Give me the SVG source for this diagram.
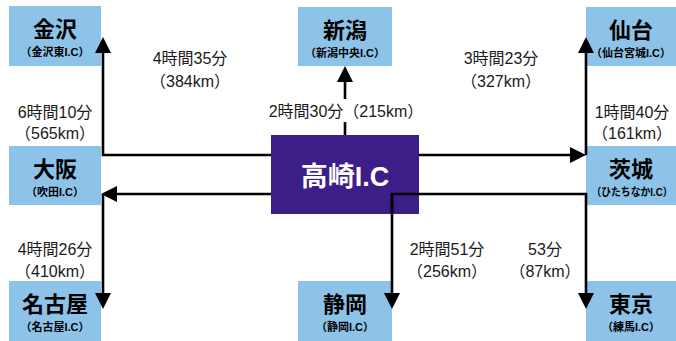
<svg xmlns="http://www.w3.org/2000/svg" width="676" height="341" viewBox="0 0 676 341">
<style>
  .box { fill: #8DC3E8; }
  .hub { fill: #3B1E87; }
  .t { font-family: "Liberation Sans", "Noto Sans CJK JP", sans-serif; text-anchor: middle; }
  .title { font-size: 22px; font-weight: bold; fill: #000; }
  .sub { font-size: 11px; font-weight: bold; fill: #000; }
  .hubt { font-size: 27px; font-weight: bold; fill: #fff; }
  .lbl { font-size: 16px; fill: #1a1a1a; }
  .ln { fill: none; stroke: #000; stroke-width: 2.6; }
</style>
<defs>
  <marker id="ah" markerUnits="userSpaceOnUse" markerWidth="16" markerHeight="16" refX="10" refY="8" orient="auto" viewBox="0 0 16 16">
    <path d="M0,0 L16,8 L0,16 Z" fill="#000"/>
  </marker>
</defs>
<rect width="676" height="341" fill="#fff"/>

<g id="kanazawa">
  <rect class="box" x="9" y="6" width="92" height="60"/>
  <text class="t title" x="55" y="37">金沢</text>
  <text class="t sub" x="55" y="56">（金沢東I.C）</text>
</g>
<g id="niigata">
  <rect class="box" x="298" y="7" width="94" height="59"/>
  <text class="t title" x="345" y="38">新潟</text>
  <text class="t sub" x="345" y="57">（新潟中央I.C）</text>
</g>
<g id="sendai">
  <rect class="box" x="586" y="7" width="90" height="59"/>
  <text class="t title" x="631" y="38">仙台</text>
  <text class="t sub" x="631" y="57" textLength="80" lengthAdjust="spacingAndGlyphs">（仙台宮城I.C）</text>
</g>
<g id="osaka">
  <rect class="box" x="9" y="146" width="92" height="59"/>
  <text class="t title" x="55" y="177">大阪</text>
  <text class="t sub" x="55" y="196">（吹田I.C）</text>
</g>
<g id="ibaraki">
  <rect class="box" x="586" y="146" width="90" height="59"/>
  <text class="t title" x="631" y="177">茨城</text>
  <text class="t sub" x="632" y="196" font-size="10.5" textLength="81" lengthAdjust="spacingAndGlyphs">（ひたちなかI.C）</text>
</g>
<g id="nagoya">
  <rect class="box" x="9" y="281" width="92" height="60"/>
  <text class="t title" x="55" y="312">名古屋</text>
  <text class="t sub" x="55" y="331">（名古屋I.C）</text>
</g>
<g id="shizuoka">
  <rect class="box" x="298" y="281" width="94" height="60"/>
  <text class="t title" x="345" y="312">静岡</text>
  <text class="t sub" x="345" y="331">（静岡I.C）</text>
</g>
<g id="tokyo">
  <rect class="box" x="586" y="281" width="90" height="60"/>
  <text class="t title" x="631" y="312">東京</text>
  <text class="t sub" x="631" y="331">（練馬I.C）</text>
</g>
<g id="takasaki">
  <rect class="hub" x="271" y="135" width="148" height="79"/>
  <text class="t hubt" x="345" y="186">高崎I.C</text>
</g>

<g id="connectors">
  <path class="ln" d="M271,155 H103 V43" marker-end="url(#ah)"/>
  <path class="ln" d="M419,155 H580" marker-end="url(#ah)"/>
  <path class="ln" d="M586,155 V43" marker-end="url(#ah)"/>
  <path class="ln" d="M271,194 H107" marker-end="url(#ah)"/>
  <path class="ln" d="M103,194 V303" marker-end="url(#ah)"/>
  <path class="ln" d="M392,214 V194 H586 V303" marker-end="url(#ah)"/>
  <path class="ln" d="M392,194 V303" marker-end="url(#ah)"/>
  <path class="ln" d="M345,135 V122"/>
  <path class="ln" d="M345,99 V72" marker-end="url(#ah)"/>
</g>

<g id="labels">
  <text class="t lbl" x="190" y="64">4時間35分</text>
  <text class="t lbl" x="190" y="87">（384km）</text>
  <text class="t lbl" x="501" y="64">3時間23分</text>
  <text class="t lbl" x="501" y="87">（327km）</text>
  <text class="t lbl" x="55" y="118">6時間10分</text>
  <text class="t lbl" x="55" y="139">（565km）</text>
  <text class="t lbl" x="632" y="118">1時間40分</text>
  <text class="t lbl" x="632" y="139">（161km）</text>
  <text class="t lbl" x="346" y="117">2時間30分（215km）</text>
  <text class="t lbl" x="55" y="255">4時間26分</text>
  <text class="t lbl" x="55" y="277">（410km）</text>
  <text class="t lbl" x="447" y="255">2時間51分</text>
  <text class="t lbl" x="447" y="277">（256km）</text>
  <text class="t lbl" x="545" y="255">53分</text>
  <text class="t lbl" x="545" y="277">（87km）</text>
</g>
</svg>
